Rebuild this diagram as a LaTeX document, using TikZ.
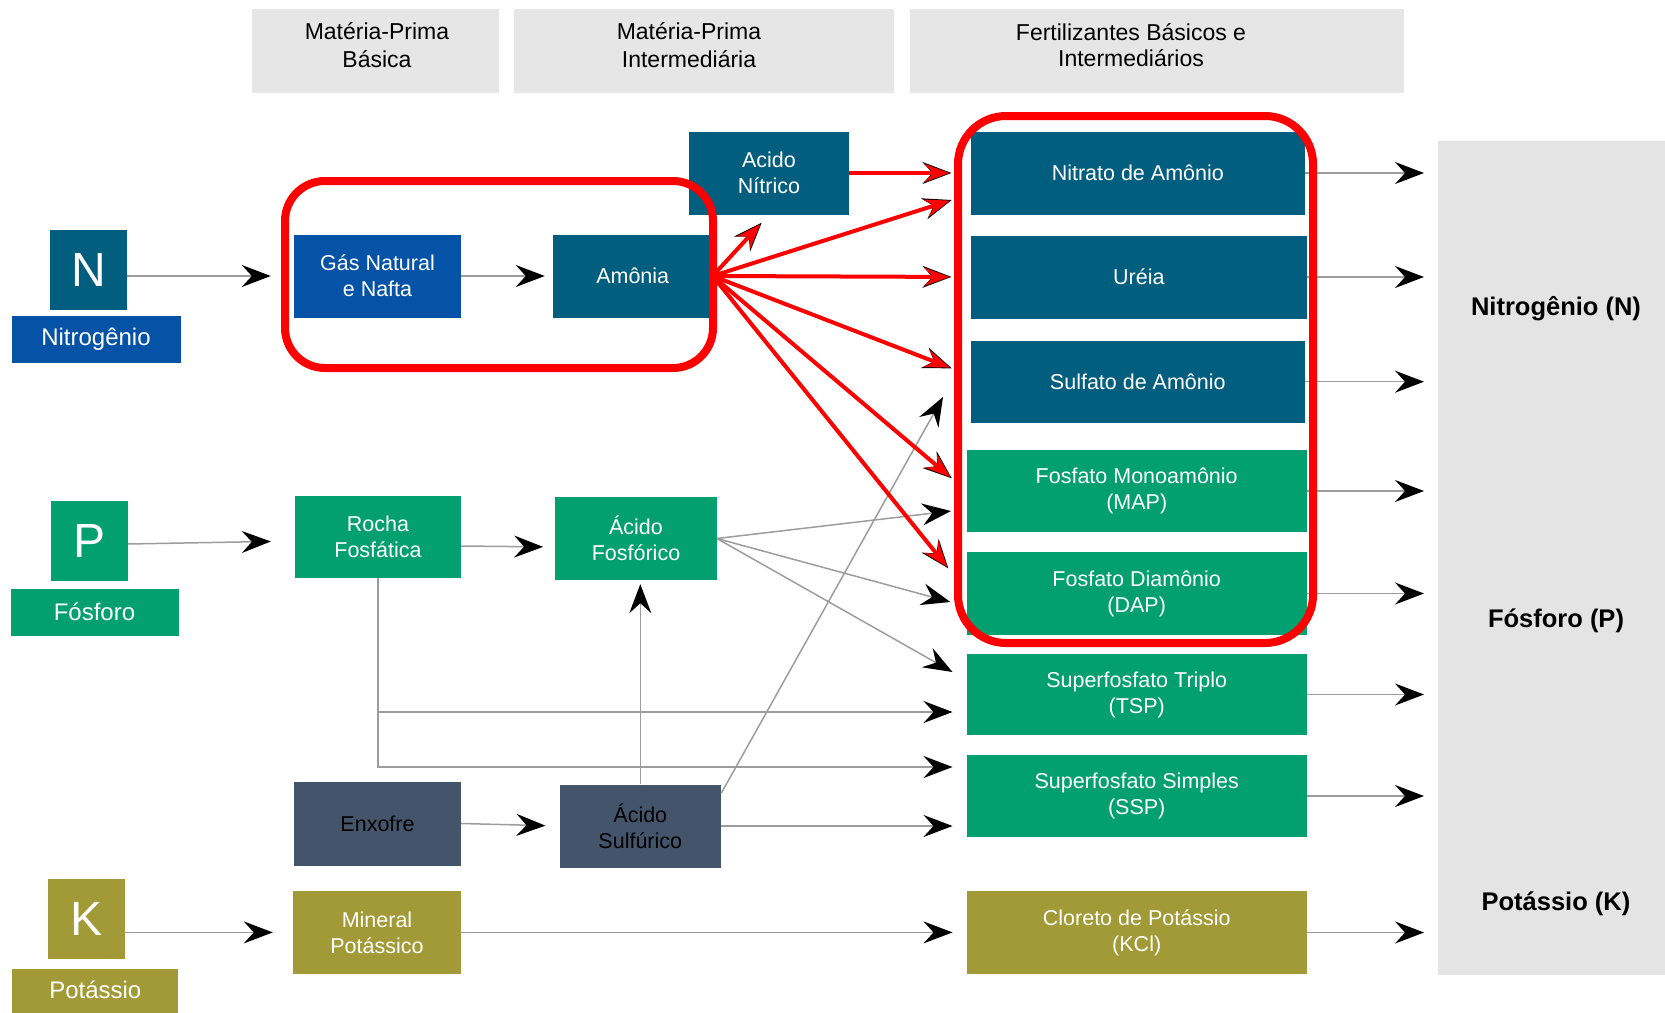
\documentclass[tikz,border=0pt]{standalone}
\usepackage{fontspec}
\setmainfont{Liberation Sans}
\usetikzlibrary{arrows.meta,calc}
\definecolor{cteal}{HTML}{025E7E}
\definecolor{cblue}{HTML}{0553A6}
\definecolor{cgreen}{HTML}{01A06E}
\definecolor{cslate}{HTML}{44546A}
\definecolor{colive}{HTML}{A19A37}
\definecolor{chead}{HTML}{E6E6E6}
\definecolor{cpanel}{HTML}{E4E4E4}
\definecolor{cred}{HTML}{FF0000}
\definecolor{cline}{HTML}{9C9C9C}
\begin{document}
\begin{tikzpicture}[x=1pt,y=-1pt,
  box/.style={inner sep=0pt, align=center, text=white, font=\fontsize{21.5}{26}\selectfont, minimum height=83pt},
  fert/.style={box, minimum width=340pt, minimum height=82pt},
  letter/.style={inner sep=0pt, text=white, font=\fontsize{48}{48}\selectfont, minimum width=77pt, minimum height=80pt},
  elab/.style={inner sep=0pt, text=white, font=\fontsize{24}{28}\selectfont, minimum width=168pt, minimum height=47pt},
  headbox/.style={fill=chead, inner sep=0pt, minimum height=84pt},
  headtext/.style={align=center, inner sep=0pt, text=black},
  sidetext/.style={inner sep=0pt, font=\bfseries\fontsize{25.5}{30}\selectfont},
  garrow/.style={draw=cline, line width=1.5pt, -{Stealth[length=29pt,width=22pt,inset=10pt,color=black]}},
  rarrow/.style={draw=cred, line width=4pt, -{Stealth[length=25pt,width=18pt,inset=9pt,color=cred]}},
  redbox/.style={draw=cred, line width=8pt},
]
\useasboundingbox (0,0) rectangle (1665,1012);

% headers
\node[headbox, minimum width=247pt] (h1) at (375.4,50.5) {};
\node[headbox, minimum width=380pt] (h2) at (704,50.5) {};
\node[headbox, minimum width=494pt] (h3) at (1157,50.5) {};
\node[headtext, font=\fontsize{23}{27.5}\selectfont] (h1t) at (377,45) {Matéria-Prima\\Básica};
\node[headtext, font=\fontsize{23}{27.5}\selectfont] (h2t) at (689,45) {Matéria-Prima\\Intermediária};
\node[headtext, font=\fontsize{23}{25.5}\selectfont] (h3t) at (1131,45) {Fertilizantes Básicos e\\Intermediários};

% right panel
\node[fill=cpanel, inner sep=0pt, minimum width=227pt, minimum height=834pt] (panel) at (1551.5,558) {};
\node[sidetext] (sN) at (1556,309) {Nitrogênio (N)};
\node[sidetext] (sP) at (1556,621) {Fósforo (P)};
\node[sidetext] (sK) at (1556,904) {Potássio (K)};

% element boxes
\node[letter, fill=cteal] (N) at (88.7,270) {N};
\node[elab, fill=cblue, minimum width=169pt] (Nlab) at (96,339.5) {Nitrogênio};
\node[letter, fill=cgreen] (P) at (89.2,541) {P};
\node[elab, fill=cgreen] (Plab) at (94.5,612) {Fósforo};
\node[letter, fill=colive] (K) at (86.5,919) {K};
\node[elab, fill=colive, minimum width=166pt, minimum height=50pt] (Klab) at (95.3,994) {\raisebox{8pt}{Potássio}};

% raw materials
\node[box, fill=cblue, minimum width=167pt] (gas) at (377.5,276) {Gás Natural\\e Nafta};
\node[box, fill=cteal, minimum width=159.5pt] (amonia) at (632.7,276) {Amônia};
\node[box, fill=cteal, minimum width=160.5pt] (nitrico) at (769,173) {Acido\\Nítrico};
\node[box, fill=cgreen, minimum width=166pt, minimum height=82pt] (rocha) at (378,537) {Rocha\\Fosfática};
\node[box, fill=cgreen, minimum width=161.4pt] (afosf) at (636,538.5) {Ácido\\Fosfórico};
\node[box, fill=cslate, text=black, minimum width=167pt, minimum height=84pt] (enxofre) at (377.5,823.5) {Enxofre};
\node[box, fill=cslate, text=black, minimum width=161.4pt] (asulf) at (640.3,826) {Ácido\\Sulfúrico};
\node[box, fill=colive, minimum width=168pt] (mineral) at (377,932.4) {Mineral\\Potássico};

% fertilizers
\node[fert, fill=cteal, minimum width=334.4pt, minimum height=83pt] (nitrato) at (1137.8,173) {Nitrato de Amônio};
\node[fert, fill=cteal, minimum width=336.4pt, minimum height=83pt] (ureia) at (1138.8,277) {Uréia};
\node[fert, fill=cteal, minimum width=334.4pt] (sulfato) at (1137.8,381.7) {Sulfato de Amônio};
\node[fert, fill=cgreen] (map) at (1136.7,491) {Fosfato Monoamônio\\(MAP)};
\node[fert, fill=cgreen, minimum height=83pt] (dap) at (1136.7,593.5) {Fosfato Diamônio\\(DAP)};
\node[fert, fill=cgreen, minimum height=81pt] (tsp) at (1136.7,694.5) {Superfosfato Triplo\\(TSP)};
\node[fert, fill=cgreen] (ssp) at (1136.7,796) {Superfosfato Simples\\(SSP)};
\node[fert, fill=colive, minimum height=83pt] (kcl) at (1136.7,932.5) {Cloreto de Potássio\\(KCl)};

% free ends
\coordinate (tNit) at (761.7,222.7);
\coordinate (tNat) at (951.7,200);
\coordinate (tSulR) at (951.7,368.3);
\coordinate (tMapR) at (951.7,478.3);
\coordinate (tDapR) at (948.3,568.3);
\coordinate (tSulG) at (943,397);
\coordinate (tMapG) at (951,511);
\coordinate (tDapG) at (950.4,602);
\coordinate (tTspG) at (952.5,672);
\coordinate (tTspR) at (952.5,712);
\coordinate (tSspR) at (952.5,767);
\coordinate (outX) at (1424,0);

% grey connectors
\draw[garrow, shorten >=23pt] (N.east |- gas.west) -- (gas.west);
\draw[garrow, shorten >=8pt] (gas.east) -- (amonia.west);
\draw[garrow, shorten >=24pt] (P.east) ++(0,3) -- (rocha.west |- P.east);
\draw[garrow, shorten >=12pt] (rocha.east) ++(0,9) -- ($(afosf.west)+(0,8.5)$);
\draw[garrow, shorten >=20pt] (K.east |- mineral.west) -- (mineral.west);
\draw[garrow, shorten >=14pt] (enxofre.east) -- (asulf.west);
\draw[garrow, shorten >=4pt] (asulf.north) -- (asulf.north |- afosf.south);
\draw[garrow] ($(asulf.north east)+(0,9)$) -- (tSulG);
\draw[garrow, shorten >=14pt] (asulf.east) -- (asulf.east -| ssp.west);
\draw[garrow] (rocha.south) |- (tSspR);
\draw[garrow] (rocha.south |- tTspR) -- (tTspR);
\draw[garrow] (afosf.east) -- (tMapG);
\draw[garrow] (afosf.east) -- (tDapG);
\draw[garrow] (afosf.east) -- (tTspG);
\draw[garrow, shorten >=14pt] (mineral.east) -- (mineral.east -| kcl.west);
\foreach \f in {nitrato,ureia,sulfato,map,dap,tsp,ssp,kcl}
  \draw[garrow] (\f.east) -- (\f.east -| outX);

% underlying black arrows of the red ones
\draw[garrow] (amonia.east) -- (tNit);
\draw[garrow] (amonia.east) -- (tNat);
\draw[garrow, shorten >=19pt] (amonia.east) -- (ureia.west);
\draw[garrow] (amonia.east) -- (tSulR);
\draw[garrow] (amonia.east) -- (tMapR);
\draw[garrow] (amonia.east) -- (tDapR);
\draw[garrow, shorten >=19pt] (nitrico.east) -- (nitrato.west);

% red arrows
\draw[rarrow, shorten >=2pt] (amonia.east) -- (tNit);
\draw[rarrow, shorten >=2pt] (amonia.east) -- (tNat);
\draw[rarrow, shorten >=21pt] (amonia.east) -- (ureia.west);
\draw[rarrow, shorten >=2pt] (amonia.east) -- (tSulR);
\draw[rarrow, shorten >=2pt] (amonia.east) -- (tMapR);
\draw[rarrow, shorten >=2pt] (amonia.east) -- (tDapR);
\draw[rarrow, shorten >=21pt] (nitrico.east) -- (nitrato.west);

% red highlight frames
\draw[redbox, rounded corners=40pt] (285,181) rectangle (713,368);
\draw[redbox, rounded corners=48pt] (958,116) rectangle (1313,643);
\end{tikzpicture}
\end{document}
